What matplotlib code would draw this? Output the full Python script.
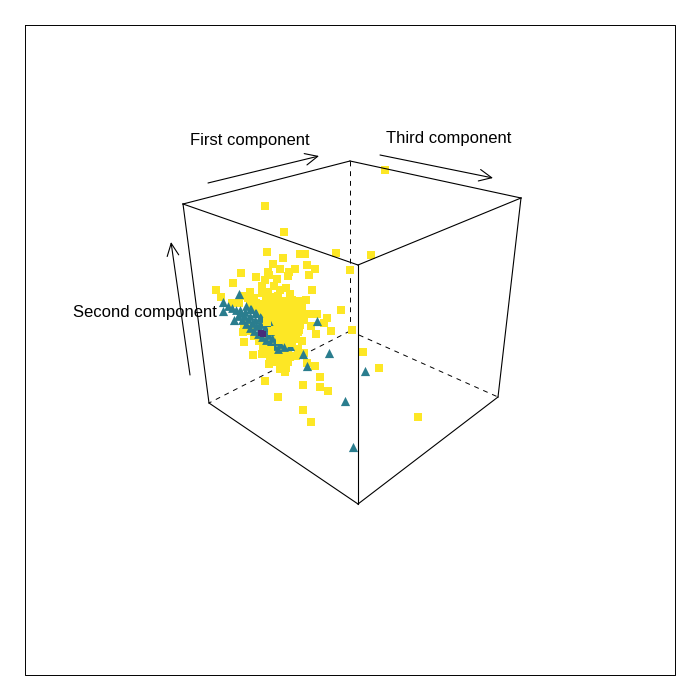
import matplotlib
matplotlib.use('Agg')
import matplotlib.pyplot as plt

plt.rcParams['font.family'] = ['Liberation Sans', 'DejaVu Sans']

# -----------------------------
# DATA (screen pixels)
# -----------------------------

# yellow group, outliers and outer part of the cloud
yellow_x = [385, 265, 284, 267, 336, 371, 350, 283, 300, 305, 273, 280, 295, 289, 288, 307, 315, 309,
            241, 256, 233, 269, 216, 221, 232, 341, 317, 327, 324, 331, 243, 253, 265, 269, 285, 298,
            304, 307, 315, 320, 303, 320, 328, 278, 303, 311, 379, 418, 363, 352, 312, 306, 316, 270,
            244, 239, 312, 311, 302, 296]
yellow_y = [170, 206, 232, 252, 253, 255, 270, 258, 254, 254, 264, 269, 269, 272, 276, 265, 269, 275,
            273, 277, 283, 275, 290, 297, 303, 310, 314, 318, 323, 331, 332, 355, 381, 364, 372, 349,
            353, 363, 366, 377, 385, 387, 391, 397, 410, 422, 368, 417, 352, 330, 290, 300, 334, 358,
            296, 303, 314, 326, 341, 356]

# yellow group, dense core
core_x = [268, 265, 277, 262, 274, 250, 262, 268, 280, 286, 248, 254, 266, 272, 278, 290, 250, 256,
          262, 268, 274, 280, 286, 292, 298, 254, 260, 266, 272, 278, 284, 290, 296, 302, 258, 264,
          270, 276, 282, 288, 294, 300, 306, 262, 268, 274, 280, 286, 292, 298, 304, 270, 276, 282,
          288, 294, 300, 274, 280, 286, 292, 298, 278, 284, 290, 296, 280, 286, 292, 264, 270, 276,
          282, 288, 266, 272, 278, 284, 290, 276, 282, 288, 280, 286, 246, 250, 244, 254, 259, 263]
core_y = [272, 280, 279, 286, 286, 292, 293, 292, 290, 288, 298, 298, 298, 297, 296, 294, 304, 303,
          304, 303, 302, 302, 301, 300, 301, 308, 309, 310, 309, 308, 308, 307, 306, 307, 314, 315,
          316, 315, 314, 314, 313, 313, 314, 320, 321, 322, 321, 320, 320, 319, 320, 328, 327, 327,
          326, 326, 325, 334, 333, 333, 332, 332, 340, 339, 338, 338, 346, 345, 344, 338, 345, 347,
          352, 351, 344, 352, 356, 358, 356, 362, 363, 362, 369, 368, 331, 327, 324, 336, 341, 346]

# teal group, outliers
teal_x = [223, 223, 239, 234, 317, 269, 329, 290, 365, 345, 353, 307, 303]
teal_y = [302, 311, 294, 320, 321, 322, 353, 346, 371, 401, 447, 366, 354]

# teal group, the streak
streak_x = [228, 232, 236, 240, 244, 248, 252, 256, 260, 264, 268, 272, 276, 280, 284, 238, 242, 246, 250,
            254, 258, 262, 266, 270, 274, 278, 240, 245, 250, 255, 260, 265, 270, 250, 255, 260, 265,
            246, 251, 256, 261]
streak_y = [306, 308, 310, 313, 316, 319, 323, 326, 329, 332, 335, 338, 341, 344, 347, 316, 320, 324, 328,
            331, 334, 337, 340, 343, 346, 349, 310, 312, 316, 320, 324, 328, 331, 309, 313, 317, 322,
            306, 309, 313, 318]

# yellow squares sitting on top of the teal, they cut the streak into spikes
top_x = [263, 271, 279, 287, 295, 267, 275, 283, 291, 299, 276, 284, 292, 272, 280, 262, 270, 290, 244]
top_y = [305, 317, 323, 331, 339, 322, 330, 336, 343, 330, 318, 325, 333, 331, 340, 354, 350, 357, 342]

# purple group
purple_x = [261, 263]
purple_y = [333, 334]

# cube corners
left_top = (183, 204)
back_top = (350, 161)
right_top = (521, 198)
front_top = (358, 265)
left_bot = (209, 403)
right_bot = (498, 397)
front_bot = (358, 504)
back_bot = (350, 331)

solid_edges = [(left_top, back_top), (back_top, right_top), (right_top, front_top), (front_top, left_top),
               (front_top, front_bot), (left_top, left_bot), (right_top, right_bot),
               (left_bot, front_bot), (right_bot, front_bot)]
dashed_edges = [(back_top, back_bot), (back_bot, left_bot), (back_bot, right_bot)]

# -----------------------------
# PLOT
# -----------------------------

fig = plt.figure(figsize=(7, 7), dpi=100)
ax = fig.add_axes([0, 0, 1, 1])
ax.set_xlim(0, 700)
ax.set_ylim(700, 0)
ax.axis('off')

# outer box
ax.plot([25, 675, 675, 25, 25], [25, 25, 675, 675, 25], color='black', lw=0.7)

for a, b in dashed_edges:
    ax.plot([a[0], b[0]], [a[1], b[1]], color='black', lw=0.7, ls=(0, (5, 5)))

ax.scatter(yellow_x, yellow_y, marker='s', s=27, color='#FDE725', lw=0, zorder=3)
ax.scatter(core_x, core_y, marker='s', s=27, color='#FDE725', lw=0, zorder=3)
ax.scatter(streak_x, streak_y, marker='^', s=40, color='#2A7D8E', lw=0, zorder=4)
ax.scatter(teal_x, teal_y, marker='^', s=44, color='#2A7D8E', lw=0, zorder=4)
ax.scatter(top_x, top_y, marker='s', s=27, color='#FDE725', lw=0, zorder=5)
ax.scatter(purple_x, purple_y, marker='s', s=16, color='#472D7B', lw=0, zorder=6)

for a, b in solid_edges:
    ax.plot([a[0], b[0]], [a[1], b[1]], color='black', lw=0.8, zorder=7)

# axis arrows
arrow_style = dict(arrowstyle='->,head_length=0.9,head_width=0.42', color='black', lw=0.8,
                   shrinkA=0, shrinkB=0)
ax.annotate('', xy=(319, 156), xytext=(208, 183), arrowprops=arrow_style)
ax.annotate('', xy=(493, 178), xytext=(380, 155), arrowprops=arrow_style)
ax.annotate('', xy=(171, 242), xytext=(190, 375), arrowprops=arrow_style)

ax.text(250, 141, 'First component', fontsize=12, ha='center', va='center', zorder=8)
ax.text(449, 138, 'Third component', fontsize=12, ha='center', va='center', zorder=8)
ax.text(145, 313, 'Second component', fontsize=12, ha='center', va='center', zorder=8)

fig.savefig('out.png', dpi=100)
